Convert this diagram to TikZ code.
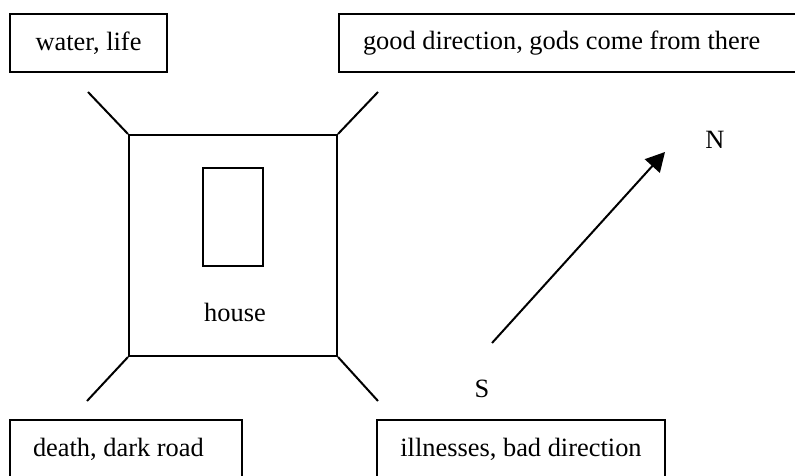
\documentclass[tikz,border=0pt]{standalone}
\usepackage{fontspec}
\setmainfont{Liberation Serif}
\usepackage{tikz}
\usetikzlibrary{arrows.meta,positioning}

\begin{document}
\begin{tikzpicture}[x=0.5pt, y=-0.5pt, line width=1pt,
    txt/.style={font=\fontsize{13.2}{15}\selectfont, inner sep=0pt},
    sidebox/.style={draw, txt, minimum height=29pt}]
  \useasboundingbox (0,0) rectangle (795,475);
  % labelled boxes
  \node[sidebox, minimum width=78.5pt] (water) at (88.5,43) {water, life};
  \node[sidebox, anchor=west, text width=220pt, align=flush left, inner xsep=12pt] (good) at (338,43) {good direction, gods come from there};
  \node[sidebox, anchor=west, text width=93pt, align=flush left, inner xsep=11.5pt] (death) at (9,449) {death, dark road};
  \node[sidebox, minimum width=144pt] (ill) at (521,449) {illnesses, bad direction};
  % house plan
  \node[draw, minimum width=104pt, minimum height=110.5pt, inner sep=0pt] (house) at (233,245.5) {};
  \node[draw, minimum width=30pt, minimum height=49pt, inner sep=0pt] (room) at (233,217) {};
  \node[txt] (houselbl) at (235,312) {house};
  \coordinate (nw) at (88,92);
  \coordinate (ne) at (378,92);
  \coordinate (sw) at (87,401);
  \coordinate (se) at (378,401);
  \draw (house.north west) -- (nw);
  \draw (house.north east) -- (ne);
  \draw (house.south west) -- (sw);
  \draw (house.south east) -- (se);
  % compass
  \coordinate (tail) at (492,343);
  \coordinate (tip) at (665,152);
  \draw[-{Triangle[length=9.5pt,width=10pt]}] (tail) -- (tip);
  \node[txt] (N) at (715,140) {N};
  \node[txt] (S) at (482,389) {S};
\end{tikzpicture}
\end{document}
